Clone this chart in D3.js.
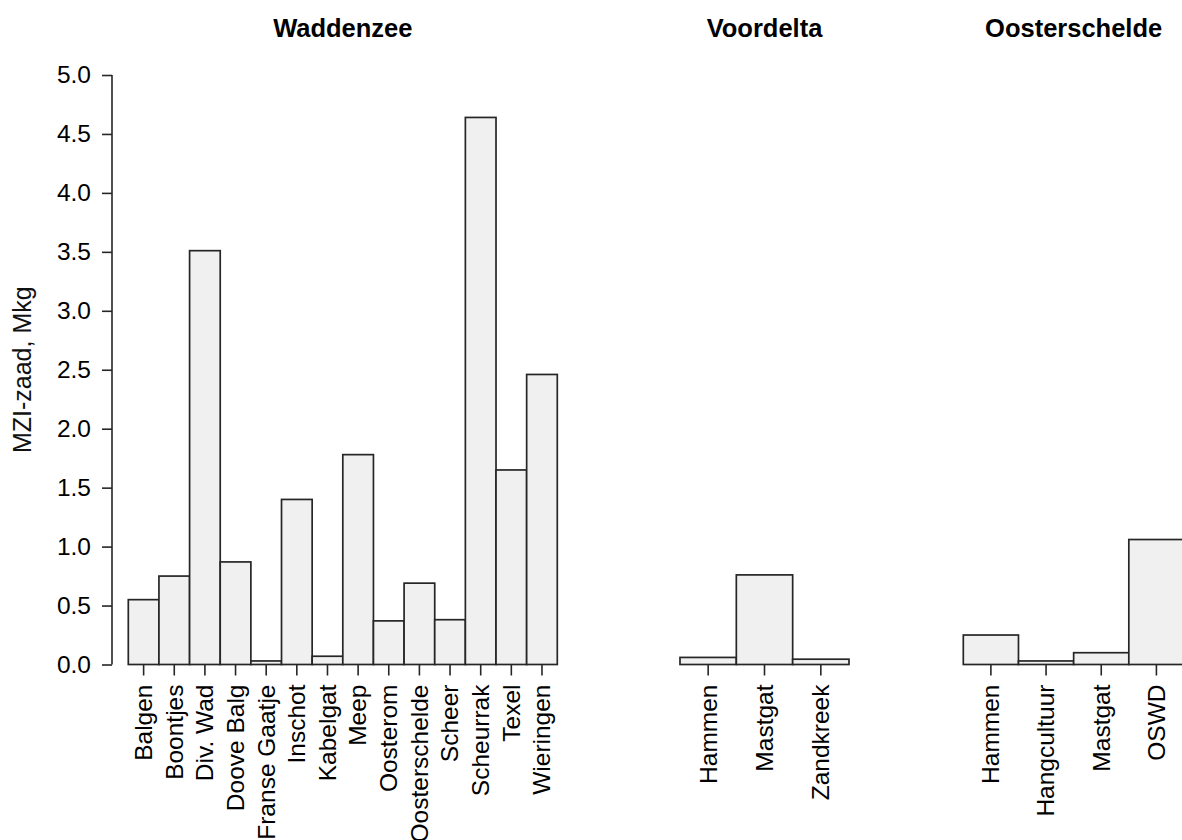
<!DOCTYPE html>
<html>
<head>
<meta charset="utf-8">
<script src="https://cdn.jsdelivr.net/npm/d3@7"></script>
<style>
  html, body { margin: 0; padding: 0; background: #fff; }
  svg { display: block; font-family: "Liberation Sans", Arial, sans-serif; }
</style>
</head>
<body>
<svg id="chart" width="1182" height="840"></svg>
<script>
// Seed mussel stock (MZI-zaad, Mkg) per location, grouped by area
const panelTitles = ["Waddenzee", "Voordelta", "Oosterschelde"];

const waddenzeeSites = ["Balgen", "Boontjes", "Div. Wad", "Doove Balg", "Franse Gaatje", "Inschot",
  "Kabelgat", "Meep", "Oosterom", "Oosterschelde", "Scheer", "Scheurrak", "Texel", "Wieringen"];
const waddenzeeValues = [0.55, 0.75, 3.51, 0.87, 0.03, 1.40, 0.07, 1.78, 0.37, 0.69, 0.38, 4.64, 1.65, 2.46];

const voordeltaSites = ["Hammen", "Mastgat", "Zandkreek"];
const voordeltaValues = [0.06, 0.76, 0.045];

const oosterscheldeSites = ["Hammen", "Hangcultuur", "Mastgat", "OSWD"];
const oosterscheldeValues = [0.25, 0.03, 0.10, 1.06];

const yTicks = [0, 0.5, 1, 1.5, 2, 2.5, 3, 3.5, 4, 4.5, 5];
const yLabel = "MZI-zaad, Mkg";

// Horizontal extent of each panel's bars
const panels = [
  { title: panelTitles[0], sites: waddenzeeSites, values: waddenzeeValues, x0: 128.3, x1: 557.3 },
  { title: panelTitles[1], sites: voordeltaSites, values: voordeltaValues, x0: 680, x1: 849 },
  { title: panelTitles[2], sites: oosterscheldeSites, values: oosterscheldeValues, x0: 963.3, x1: 1184 }
];

const svg = d3.select("#chart");
const y = d3.scaleLinear().domain([0, 5]).range([664.5, 75]);

const tickFont = 24.5;
const barFill = "#f0f0f0";
const barStroke = "#262626";
const lineCol = "#262626";

// Y axis (left panel only)
const yAxis = d3.axisLeft(y)
  .tickValues(yTicks)
  .tickFormat(d3.format(".1f"))
  .tickSizeInner(10)
  .tickSizeOuter(0)
  .tickPadding(11);

const gy = svg.append("g")
  .attr("transform", "translate(112,0)")
  .call(yAxis);
gy.select(".domain").attr("stroke", lineCol).attr("stroke-width", 1.6)
  .attr("d", `M0,${y(5)}V${y(0)}`);
gy.selectAll(".tick line").attr("stroke", lineCol).attr("stroke-width", 1.6);
gy.selectAll(".tick text")
  .attr("fill", "#000")
  .style("font-size", tickFont + "px")
  .style("font-family", "'Liberation Sans', Arial, sans-serif");

svg.append("text")
  .attr("transform", `translate(31,${(y(0) + y(5)) / 2}) rotate(-90)`)
  .attr("text-anchor", "middle")
  .attr("fill", "#111")
  .style("font-size", "25px")
  .text(yLabel);

panels.forEach(p => {
  const x = d3.scaleBand().domain(p.sites).range([p.x0, p.x1]).padding(0);
  const g = svg.append("g");

  g.selectAll("rect")
    .data(p.sites.map((s, i) => ({ site: s, value: p.values[i] })))
    .join("rect")
    .attr("x", d => x(d.site))
    .attr("y", d => y(d.value))
    .attr("width", x.bandwidth())
    .attr("height", d => y(0) - y(d.value))
    .attr("fill", barFill)
    .attr("stroke", barStroke)
    .attr("stroke-width", 1.7);

  // Category axis: ticks and rotated labels, no axis line
  const xAxis = d3.axisBottom(x).tickSizeInner(11).tickSizeOuter(0).tickPadding(0);
  const gx = g.append("g")
    .attr("transform", `translate(0,${y(0)})`)
    .call(xAxis);
  gx.select(".domain").remove();
  gx.selectAll(".tick line").attr("stroke", lineCol).attr("stroke-width", 1.6);
  gx.selectAll(".tick text")
    .attr("fill", "#000")
    .attr("text-anchor", "end")
    .attr("transform", "translate(1,20) rotate(-90)")
    .attr("x", 0)
    .attr("y", 0)
    .attr("dy", "0.3em")
    .style("font-size", tickFont + "px")
    .style("font-family", "'Liberation Sans', Arial, sans-serif");

  svg.append("text")
    .attr("x", (p.x0 + p.x1) / 2)
    .attr("y", 37)
    .attr("text-anchor", "middle")
    .attr("font-weight", "bold")
    .attr("fill", "#000")
    .style("font-size", "25.5px")
    .text(p.title);
});
</script>
</body>
</html>
